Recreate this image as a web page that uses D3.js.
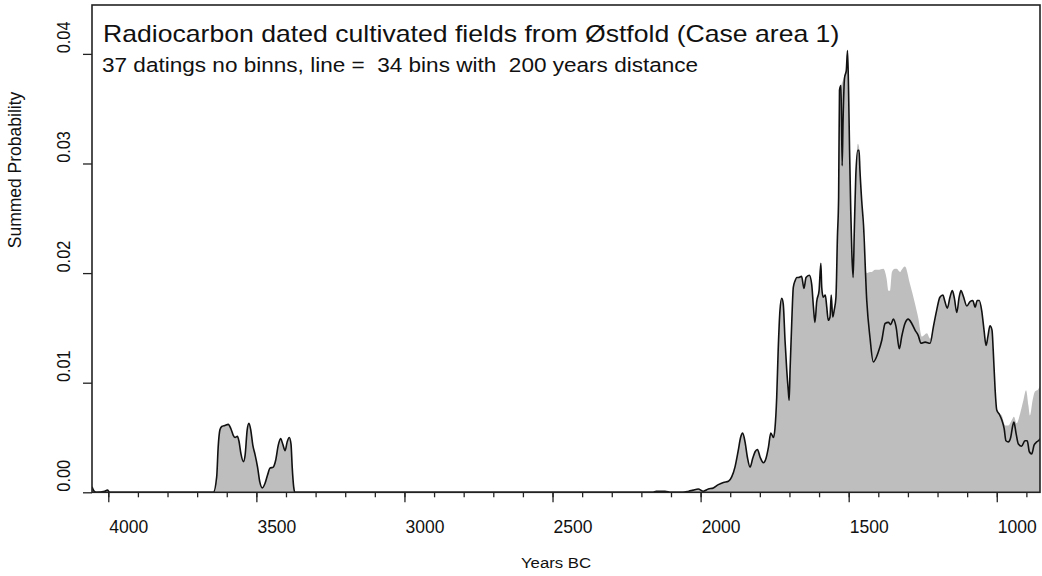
<!DOCTYPE html>
<html>
<head>
<meta charset="utf-8">
<script src="https://cdn.jsdelivr.net/npm/d3@7"></script>
<style>
  html, body { margin: 0; padding: 0; background: #ffffff; }
  svg { display: block; font-family: "Liberation Sans", Arial, sans-serif; }
</style>
</head>
<body>
<svg id="chart" width="1042" height="576"></svg>
<script>
// ---------------- data (years BC, summed probability) ----------------
const titleText = "Radiocarbon dated cultivated fields from \u00D8stfold (Case area 1)";
const subtitleText = "37 datings no binns, line =  34 bins with  200 years distance";
const xLabel = "Years BC";
const yLabel = "Summed Probability";
const xMajorTicks = [4000, 3500, 3000, 2500, 2000, 1500, 1000];
const xMinorTicks = [4000,3900,3800,3700,3600,3500,3400,3300,3200,3100,3000,2900,2800,2700,2600,2500,2400,2300,2200,2100,2000,1900,1800,1700,1600,1500,1400,1300,1200,1100,1000,900];
const yTicks = [0, 0.01, 0.02, 0.03, 0.04];
const yTickLabels = ["0.00", "0.01", "0.02", "0.03", "0.04"];
const xDomain = [4055, 854];
const yDomain = [0, 0.04446];

// part shared by both curves (before the main peak)
const sharedEarly = [
  [4055,0.0005],[4048,0.0001],[4040,0],[4012,0.0001],[4003,0.0002],[3995,0],
  [3660,0],[3645,0],[3634,0.0014],[3629,0.0041],[3623,0.0057],[3617,0.0060],[3606,0.0061],[3595,0.0062],
  [3586,0.0058],[3578,0.0052],[3572,0.0050],[3564,0.0051],[3559,0.0047],[3552,0.0035],[3544,0.0028],
  [3538,0.0034],[3531,0.0057],[3525,0.0063],[3519,0.0057],[3512,0.0043],[3505,0.0035],[3496,0.0023],
  [3488,0.0009],[3480,0.0004],[3471,0.0008],[3462,0.0016],[3454,0.0022],[3443,0.0023],[3435,0.0029],
  [3426,0.0043],[3418,0.0049],[3411,0.0044],[3403,0.0038],[3396,0.0046],[3389,0.0050],[3383,0.0044],
  [3379,0.0023],[3374,0.0005],[3370,0],
  [2160,0],[2150,0.0001],[2120,0.0001],[2100,0],[2060,0],[2040,0.0001],[2025,0.0002],[2008,0.0003],
  [1991,0.0001],[1974,0.0003],[1957,0.0004],[1940,0.0007],[1923,0.0009],[1906,0.0010],[1895,0.0014],
  [1884,0.0023],[1873,0.0038],[1865,0.0050],[1858,0.0054],[1850,0.0046],[1842,0.0032],[1833,0.0023],
  [1824,0.0031],[1816,0.0037],[1808,0.0039],[1799,0.0032],[1788,0.0027],[1779,0.0031],[1771,0.0041],
  [1763,0.0054],[1754,0.0050],[1749,0.0058],[1743,0.0087],[1738,0.0130],[1732,0.0166],[1726,0.0177],
  [1721,0.0172],[1715,0.0139],[1709,0.0111],[1704,0.0093],[1701,0.0084],[1698,0.0111],[1692,0.0157],
  [1687,0.0187],[1681,0.0193],[1675,0.0196],[1670,0.0196],[1659,0.0197],[1651,0.0186],[1644,0.0196],
  [1633,0.0198],[1625,0.0190],[1619,0.0169],[1614,0.0155],[1608,0.0174],[1600,0.0184],[1594,0.0209],
  [1591,0.0187],[1586,0.0178],[1579,0.0180],[1574,0.0169],[1569,0.0157],[1563,0.0160],[1559,0.0180],
  [1554,0.0160],[1549,0.0166],[1543,0.0178],[1538,0.0233],[1534,0.0269]
];
// main peak: binned (line) vs. unbinned (grey)
const binnedPeak = [
  [1531,0.0367],[1526,0.0371],[1522,0.0298],[1519,0.0339],[1514,0.0378],[1508,0.0385],[1504,0.0403],
  [1501,0.0376],[1497,0.0312],[1493,0.0257],[1489,0.0216],[1485,0.0196],[1481,0.0239],[1476,0.0289],
  [1469,0.0312],[1465,0.0312],[1462,0.0294],[1456,0.0266],[1450,0.0244],[1439,0.0175],[1428,0.0141],
  [1417,0.0119],[1400,0.0128],[1388,0.0139],[1377,0.0154],[1366,0.0155],[1358,0.0153],[1349,0.0158],
  [1340,0.0151],[1329,0.0131],[1321,0.0142],[1310,0.0154],[1299,0.0158],[1287,0.0154],[1276,0.0148],
  [1265,0.0143],[1256,0.0136],[1242,0.0137],[1225,0.0136]
];
const unbinnedPeak = [
  [1531,0.0367],[1526,0.0371],[1522,0.0374],[1519,0.0376],[1514,0.0380],[1508,0.0386],[1504,0.0403],
  [1501,0.0376],[1497,0.0312],[1493,0.0257],[1489,0.0216],[1485,0.0196],[1481,0.0239],[1476,0.0289],
  [1469,0.0318],[1465,0.0315],[1462,0.0296],[1456,0.0266],[1450,0.0230],[1445,0.0210],[1439,0.0200],
  [1428,0.0201],[1422,0.0201],[1411,0.0203],[1400,0.0203],[1383,0.0204],[1372,0.0195],[1366,0.0184],
  [1360,0.0184],[1354,0.0201],[1344,0.0204],[1338,0.0204],[1326,0.0201],[1321,0.0203],[1310,0.0206],
  [1293,0.0190],[1276,0.0172],[1265,0.0159],[1253,0.0142],[1236,0.0145],[1225,0.0140]
];
const sharedMid = [
  [1214,0.0151],[1203,0.0166],[1192,0.0178],[1182,0.0180],[1175,0.0174],[1167,0.0168],[1158,0.0178],
  [1150,0.0184],[1143,0.0177],[1135,0.0164],[1127,0.0178],[1121,0.0184],[1113,0.0179],[1101,0.0170],
  [1090,0.0174],[1081,0.0175],[1073,0.0169],[1066,0.0175],[1059,0.0175],[1051,0.0166],[1043,0.0148],
  [1036,0.0134],[1030,0.0142],[1023,0.0152],[1016,0.0148],[1012,0.0130],[1006,0.0096]
];
const binnedTail = [
  [1000,0.0075],[991,0.0071],[983,0.0066],[975,0.0058],[969,0.0047],[961,0.0046],[953,0.0050],
  [946,0.0061],[942,0.0064],[935,0.0054],[927,0.0044],[916,0.0042],[905,0.0047],[897,0.0047],
  [890,0.0037],[882,0.0035],[874,0.0043],[865,0.0046],[856,0.0048],[854,0.0049]
];
const unbinnedTail = [
  [1000,0.0075],[991,0.0072],[983,0.0070],[972,0.0061],[961,0.0061],[949,0.0066],[942,0.0069],
  [933,0.0063],[921,0.0072],[910,0.0084],[901,0.0093],[893,0.0079],[888,0.0070],[879,0.0084],
  [871,0.0092],[863,0.0093],[854,0.0097]
];

const binnedSPD = sharedEarly.concat(binnedPeak, sharedMid, binnedTail);
const unbinnedSPD = sharedEarly.concat(unbinnedPeak, sharedMid, unbinnedTail);

// ---------------- layout ----------------
const plot = { left: 92, right: 1040, top: 5, bottom: 492.3 };
const stretch = 1.157; // the reference text is widened horizontally

const svg = d3.select("#chart");
const x = d3.scaleLinear().domain(xDomain).range([plot.left, plot.right]);
const y = d3.scaleLinear().domain(yDomain).range([plot.bottom, plot.top]);

svg.append("defs").append("clipPath").attr("id", "clip")
  .append("rect")
  .attr("x", plot.left).attr("y", plot.top)
  .attr("width", plot.right - plot.left).attr("height", plot.bottom - plot.top);

const g = svg.append("g").attr("clip-path", "url(#clip)");

const area = d3.area()
  .x(d => x(d[0]))
  .y0(y(0))
  .y1(d => y(d[1]))
  .curve(d3.curveMonotoneX);

const line = d3.line()
  .x(d => x(d[0]))
  .y(d => y(d[1]))
  .curve(d3.curveMonotoneX);

g.append("path").datum(unbinnedSPD)
  .attr("d", area)
  .attr("fill", "#bebebe")
  .attr("stroke", "none");

g.append("path").datum(binnedSPD)
  .attr("d", line)
  .attr("fill", "none")
  .attr("stroke", "#111")
  .attr("stroke-width", 1.6)
  .attr("stroke-linejoin", "round");

// ---------------- axes ----------------
const xMinorAxis = d3.axisBottom(x).tickValues(xMinorTicks).tickSize(5).tickFormat("");
svg.append("g").attr("transform", `translate(0,${plot.bottom})`).call(xMinorAxis)
  .call(a => a.select(".domain").remove())
  .call(a => a.selectAll("line").attr("stroke", "#222").attr("stroke-width", 1.3));

const xAxis = d3.axisBottom(x).tickValues(xMajorTicks).tickSize(10).tickFormat(d3.format("d"));
svg.append("g").attr("transform", `translate(0,${plot.bottom})`).call(xAxis)
  .call(a => a.select(".domain").remove())
  .call(a => a.selectAll("line").attr("stroke", "#222").attr("stroke-width", 1.3))
  .call(a => a.selectAll("text")
    .attr("y", 40.4).attr("dy", 0).attr("dx", 20)
    .attr("fill", "#111")
    .style("font-size", "17.5px")
    .style("font-family", "'Liberation Sans', Arial, sans-serif"));

const yAxis = d3.axisLeft(y).tickValues(yTicks).tickSize(9).tickFormat((d, i) => yTickLabels[i]);
svg.append("g").attr("transform", `translate(${plot.left},0)`).call(yAxis)
  .call(a => a.select(".domain").remove())
  .call(a => a.selectAll("line").attr("stroke", "#222").attr("stroke-width", 1.3))
  .call(a => a.selectAll("text")
    .attr("x", null).attr("dy", 0)
    .attr("text-anchor", "middle")
    .attr("transform", `translate(-22,-17) scale(${stretch},1) rotate(-90)`)
    .attr("fill", "#111")
    .style("font-size", "16.3px")
    .style("font-family", "'Liberation Sans', Arial, sans-serif"));

// plot box
svg.append("rect")
  .attr("x", plot.left).attr("y", plot.top)
  .attr("width", plot.right - plot.left).attr("height", plot.bottom - plot.top)
  .attr("fill", "none").attr("stroke", "#222").attr("stroke-width", 1.6);

// ---------------- text ----------------
svg.append("text")
  .attr("transform", `translate(103,41.7) scale(${stretch},1)`)
  .attr("fill", "#111")
  .style("font-size", "23px")
  .text(titleText);

svg.append("text")
  .attr("transform", `translate(102,71.7) scale(${stretch},1)`)
  .attr("fill", "#111")
  .style("font-size", "19.5px")
  .style("white-space", "pre")
  .attr("xml:space", "preserve")
  .text(subtitleText);

svg.append("text")
  .attr("transform", `translate(556,568) scale(${stretch},1)`)
  .attr("text-anchor", "middle")
  .attr("fill", "#111")
  .style("font-size", "14.5px")
  .text(xLabel);

svg.append("text")
  .attr("transform", `translate(21,170) scale(1.05,1) rotate(-90)`)
  .attr("text-anchor", "middle")
  .attr("fill", "#111")
  .style("font-size", "17.5px")
  .text(yLabel);
</script>
</body>
</html>
